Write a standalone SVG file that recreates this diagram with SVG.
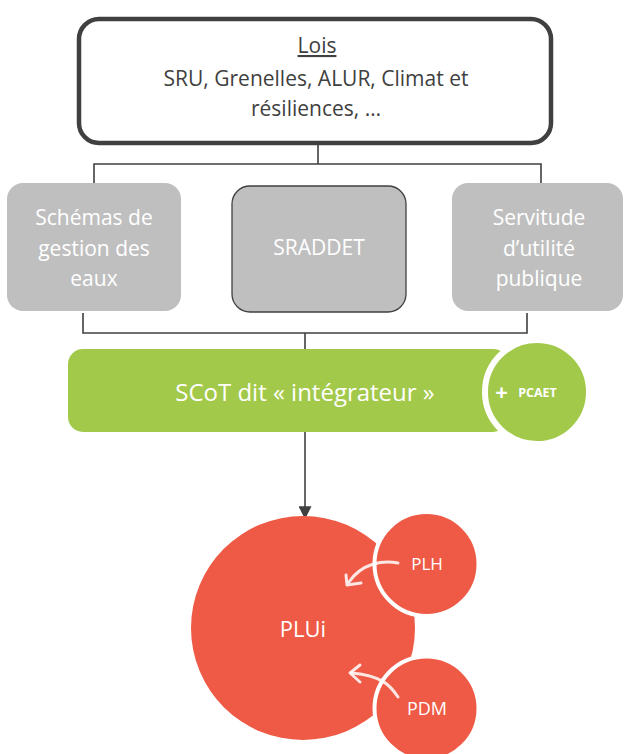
<svg xmlns="http://www.w3.org/2000/svg" width="624" height="754" viewBox="0 0 624 754">
<style>
text{font-family:"Open Sans","Liberation Sans",sans-serif;text-anchor:middle}
.dark{fill:#404040;font-size:21px}
.gbox{fill:#bfbfbf}
.wt{fill:#ffffff;font-size:21px}
.conn{stroke:#404040;stroke-width:1.6;fill:none}
.red{fill:#ee5a45}
.sk{stroke:#ffffff;stroke-opacity:0.85;stroke-width:3;fill:none;stroke-linecap:round;stroke-linejoin:round}
</style>
<defs>
<marker id="ah" viewBox="0 0 10 10" refX="9" refY="5" markerWidth="13" markerHeight="13" markerUnits="userSpaceOnUse" orient="auto">
<path d="M0,0 L10,5 L0,10 Z" fill="#404040"/>
</marker>
</defs>
<rect width="624" height="754" fill="#ffffff"/>
<g id="connectors">
<path class="conn" d="M318,143 V164 M94,183 V164 H541 V183"/>
<path class="conn" d="M83,313 V333 H527 V313 M305,333 V352"/>
<path class="conn" d="M305,432 V518" marker-end="url(#ah)"/>
</g>
<g id="lois">
<rect x="79" y="19" width="472" height="124" rx="20" fill="#ffffff" stroke="#404040" stroke-width="4.5"/>
<text class="dark" x="317" y="53" text-decoration="underline">Lois</text>
<text class="dark" x="316" y="86">SRU, Grenelles, ALUR, Climat et</text>
<text class="dark" x="316" y="116">résiliences, …</text>
</g>
<g id="schemas">
<rect class="gbox" x="7" y="183" width="174" height="128" rx="16"/>
<text class="wt" x="94" y="225">Schémas de</text>
<text class="wt" x="94" y="256">gestion des</text>
<text class="wt" x="94" y="286">eaux</text>
</g>
<g id="sraddet">
<rect class="gbox" x="232" y="186" width="174" height="126" rx="18" stroke="#404040" stroke-width="1.3"/>
<text class="wt" x="319" y="255">SRADDET</text>
</g>
<g id="servitude">
<rect class="gbox" x="452" y="183" width="171" height="128" rx="16"/>
<text class="wt" x="539" y="225">Servitude</text>
<text class="wt" x="539" y="256">d’utilité</text>
<text class="wt" x="539" y="286">publique</text>
</g>
<g id="scot">
<rect x="68" y="349" width="440" height="83" rx="15" fill="#a3c94a"/>
<text x="305" y="401" fill="#ffffff" font-size="24">SCoT dit « intégrateur »</text>
</g>
<g id="pcaet">
<circle cx="537" cy="392" r="52" fill="#a3c94a" stroke="#ffffff" stroke-width="6"/>
<text x="501.5" y="400" fill="#ffffff" font-size="22" font-weight="bold">+</text>
<text x="537.5" y="397" fill="#ffffff" font-size="12.5" font-weight="bold">PCAET</text>
</g>
<g id="plui">
<circle class="red" cx="303" cy="628" r="112"/>
<text x="303" y="637" fill="#ffffff" font-size="22">PLUi</text>
</g>
<g id="plh">
<circle class="red" cx="426.5" cy="564" r="52" stroke="#ffffff" stroke-width="4"/>
<text x="427" y="570" fill="#ffffff" font-size="17">PLH</text>
<path class="sk" d="M398,563 C383,560 362,563 349,582"/>
<path class="sk" d="M346,575 L347,585 L361,583"/>
</g>
<g id="pdm">
<circle class="red" cx="426.5" cy="708.5" r="52" stroke="#ffffff" stroke-width="4"/>
<text x="427" y="715" fill="#ffffff" font-size="18">PDM</text>
<path class="sk" d="M398,697 C390,685 382,676 352,673"/>
<path class="sk" d="M360,665 L350,673 L360,682"/>
</g>
</svg>
